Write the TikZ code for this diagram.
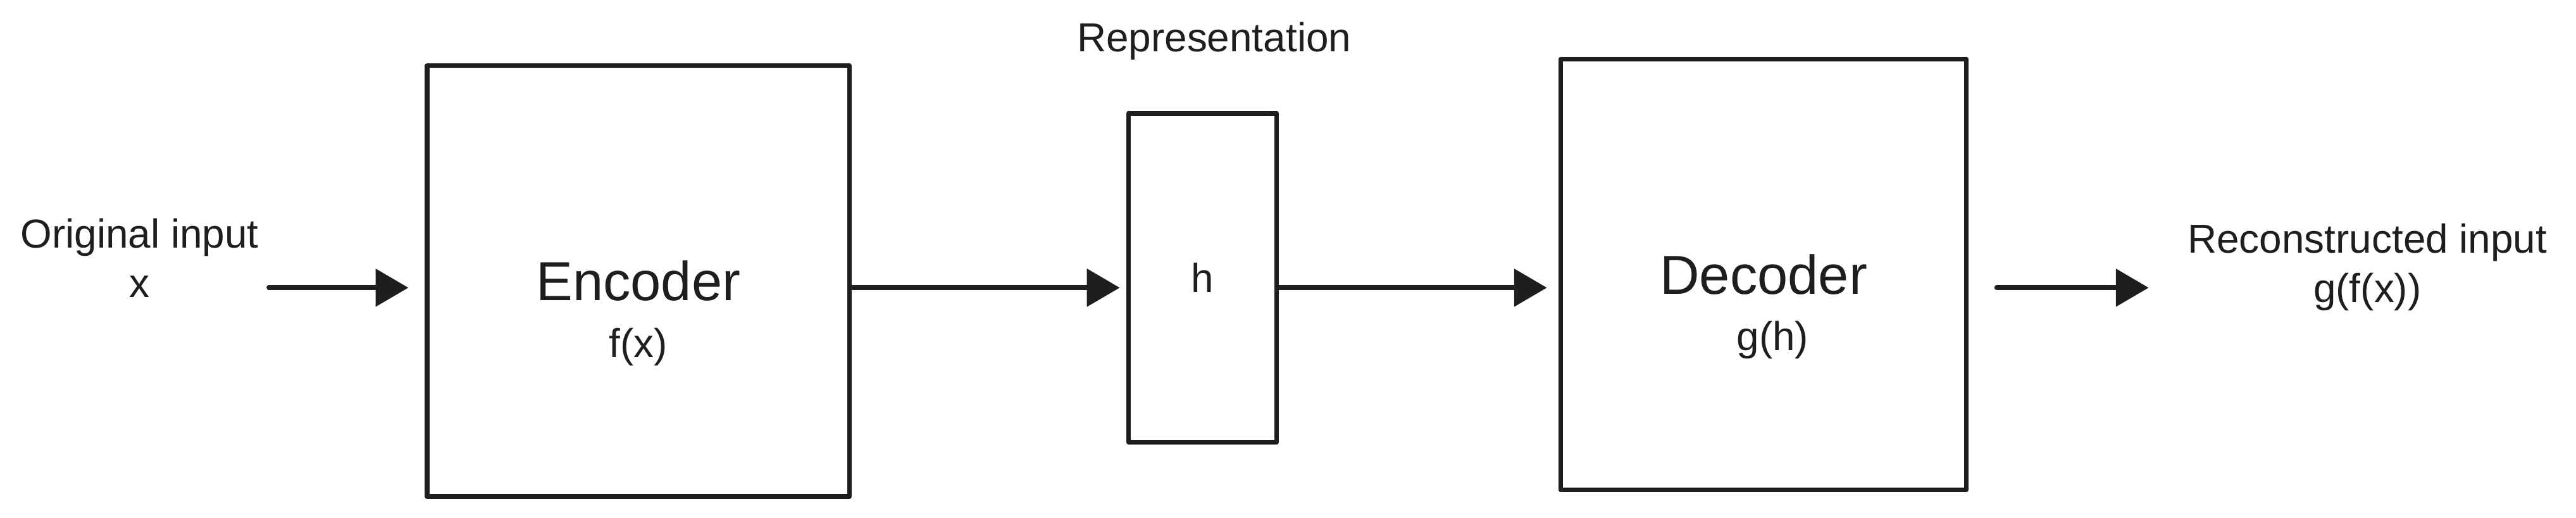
\documentclass[tikz,border=0pt]{standalone}
\usepackage{fontspec}
\setmainfont{Liberation Sans}
\usetikzlibrary{positioning,arrows.meta}
\definecolor{ink}{RGB}{30,30,30}

\begin{document}
\begin{tikzpicture}[every node/.style={font=\fontsize{14}{17}\selectfont, text=ink, align=center},
    block/.style={draw=ink, line width=1.6pt, line join=round},
    big/.style={font=\fontsize{19}{23}\selectfont},
    flow/.style={draw=ink, line width=1.7pt, line cap=round, -{Triangle[length=0.4cm, width=0.45cm]}}]
  \fill[white] (0,0) rectangle (31.36,6.30);
  \node[block, big, minimum width=5.14cm, minimum height=5.24cm] (enc) at (7.77,2.88) {Encoder};
  \node (encf) at (7.77,2.08) {f(x)};
  \node[block, minimum width=1.80cm, minimum height=4.00cm] (h) at (14.64,2.92) {h};
  \node (rep) at (14.78,5.80) {Representation};
  \node[block, big, minimum width=4.94cm, minimum height=5.24cm] (dec) at (21.47,2.96) {Decoder};
  \node (decg) at (21.58,2.16) {g(h)};
  \node (in) at (1.70,3.16) {Original input\\x};
  \node (out) at (28.82,3.05) {Reconstructed input\\g(f(x))};
  % data flow, all on one level
  \coordinate (axis) at (0,2.8);
  \draw[flow, shorten >=0.2cm] (in.east |- axis) -- (enc.west |- axis);
  \draw[flow, shorten >=0.08cm] (enc.east |- axis) -- (h.west |- axis);
  \draw[flow, shorten >=0.14cm] (h.east |- axis) -- (dec.west |- axis);
  \draw[flow, shorten <=0.34cm, shorten >=0.35cm] (dec.east |- axis) -- (out.west |- axis);
\end{tikzpicture}
\end{document}
